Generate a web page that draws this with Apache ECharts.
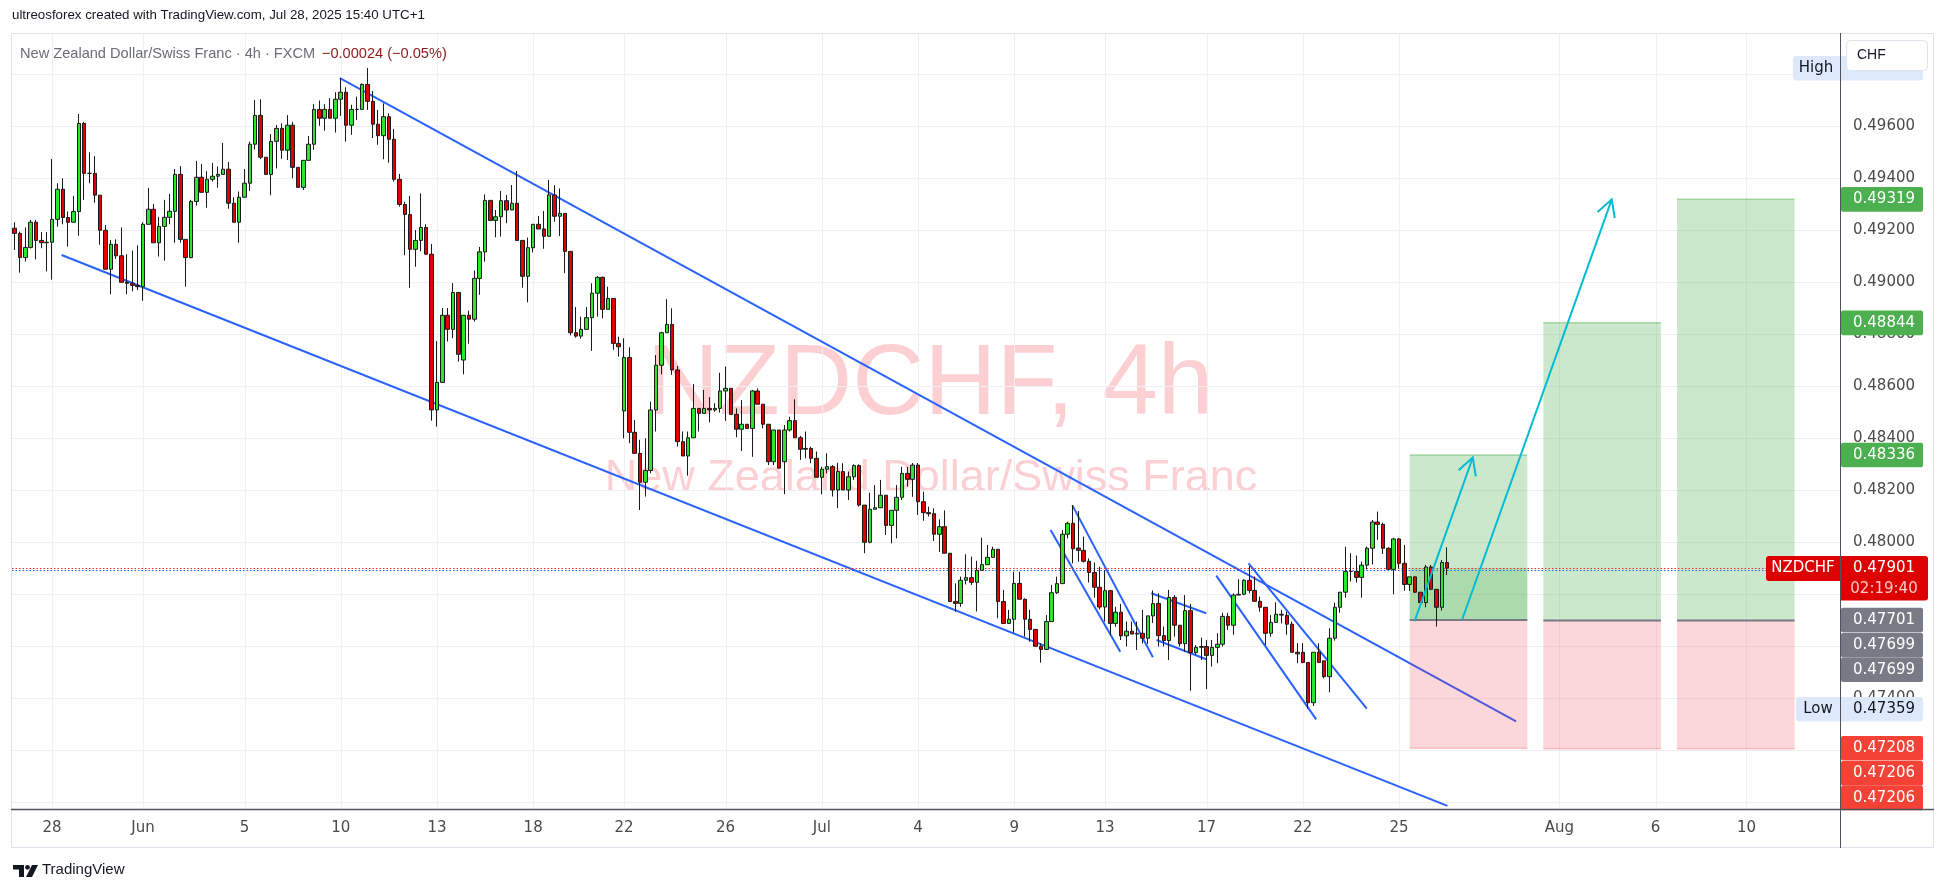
<!DOCTYPE html>
<html><head><meta charset="utf-8">
<script src="https://cdn.jsdelivr.net/npm/echarts@6/dist/echarts.min.js"></script>
<style>html,body{margin:0;padding:0;background:#fff;}#chart{width:1946px;height:893px;}</style>
</head><body><div id="chart"></div>
<script>
// ---------- data ----------
const opens=[.49208,.49188,.49095,.49134,.49231,.49161,.49152,.49154,.49242,.49358,
.49249,.49231,.49272,.49611,.49419,.49419,.49335,.49200,.49050,.49146,
.49102,.49000,.48996,.48988,.48983,.49223,.49281,.49152,.49215,.49250,
.49273,.49415,.49165,.49095,.49311,.49404,.49346,.49396,.49408,.49415,
.49435,.49304,.49231,.49327,.49381,.49531,.49642,.49481,.49415,.49542,
.49592,.49508,.49604,.49442,.49365,.49469,.49531,.49665,.49631,.49665,
.49631,.49704,.49731,.49604,.49665,.49665,.49761,.49696,.49608,.49564,
.49637,.49550,.49396,.49299,.49261,.49127,.49161,.49211,.49108,.48509,
.48615,.48873,.48819,.48961,.48701,.48873,.48858,.49015,.49117,.49315,
.49238,.49252,.49314,.49278,.49304,.49161,.49023,.49133,.49223,.49205,
.49177,.49336,.49254,.49265,.49119,.48806,.48793,.48819,.48864,.48958,
.49019,.48896,.48938,.48765,.48505,.48711,.48423,.48342,.48231,.48276,
.48509,.48681,.48806,.48838,.48663,.48387,.48332,.48402,.48515,.48496,
.48515,.48509,.48515,.48582,.48592,.48492,.48435,.48454,.48438,.48582,
.48531,.48454,.48310,.48432,.48310,.48432,.48468,.48402,.48358,.48361,
.48323,.48250,.48281,.48291,.48201,.48272,.48201,.48252,.48295,.48143,
.48000,.48127,.48133,.48181,.48065,.48123,.48173,.48265,.48242,.48297,
.48156,.48114,.48110,.48031,.48060,.47958,.47772,.47765,.47854,.47864,
.47846,.47892,.47914,.47942,.47973,.47772,.47688,.47704,.47842,.47781,
.47704,.47665,.47600,.47588,.47695,.47806,.47841,.48031,.48073,.47978,
.47969,.47927,.47884,.47827,.47751,.47814,.47688,.47731,.47640,.47658,
.47647,.47650,.47631,.47717,.47765,.47641,.47622,.47788,.47681,.47610,
.47737,.47576,.47596,.47599,.47565,.47596,.47608,.47715,.47681,.47797,
.47800,.47854,.47815,.47773,.47750,.47650,.47692,.47723,.47719,.47685,
.47577,.47577,.47538,.47383,.47577,.47544,.47483,.47631,.47750,.47808,
.47888,.47888,.47865,.47912,.47977,.48078,.48069,.47977,.47896,.48013,
.47919,.47838,.47867,.47808,.47768,.47905,.47819,.47750,.47922];
const closes=[.49188,.49095,.49134,.49231,.49161,.49152,.49154,.49242,.49358,.49249,
.49231,.49272,.49611,.49419,.49419,.49335,.49200,.49050,.49146,.49102,
.49000,.48996,.48988,.48983,.49223,.49281,.49152,.49215,.49250,.49273,
.49415,.49165,.49095,.49311,.49404,.49346,.49396,.49408,.49415,.49435,
.49304,.49231,.49327,.49381,.49531,.49642,.49481,.49415,.49542,.49592,
.49508,.49604,.49442,.49365,.49469,.49531,.49665,.49631,.49665,.49631,
.49704,.49731,.49604,.49665,.49665,.49761,.49696,.49608,.49564,.49637,
.49550,.49396,.49299,.49261,.49127,.49161,.49211,.49108,.48509,.48615,
.48873,.48819,.48961,.48723,.48873,.48858,.49015,.49117,.49315,.49238,
.49252,.49314,.49278,.49304,.49161,.49023,.49133,.49223,.49205,.49177,
.49336,.49254,.49265,.49119,.48806,.48793,.48819,.48864,.48958,.49019,
.48896,.48938,.48765,.48752,.48711,.48423,.48342,.48231,.48276,.48509,
.48681,.48806,.48838,.48663,.48387,.48332,.48402,.48515,.48496,.48515,
.48509,.48515,.48582,.48592,.48492,.48435,.48454,.48438,.48582,.48531,
.48454,.48310,.48432,.48285,.48432,.48468,.48402,.48358,.48361,.48323,
.48250,.48281,.48291,.48201,.48272,.48201,.48252,.48295,.48143,.48000,
.48127,.48133,.48181,.48065,.48123,.48173,.48265,.48242,.48297,.48156,
.48114,.48110,.48031,.48060,.47958,.47772,.47765,.47854,.47864,.47846,
.47892,.47914,.47942,.47973,.47772,.47688,.47704,.47842,.47781,.47704,
.47665,.47600,.47588,.47695,.47806,.47841,.48031,.48073,.47975,.47969,
.47927,.47884,.47827,.47751,.47814,.47688,.47731,.47640,.47658,.47647,
.47650,.47631,.47717,.47764,.47641,.47622,.47788,.47681,.47610,.47737,
.47576,.47596,.47599,.47565,.47596,.47608,.47715,.47681,.47797,.47800,
.47854,.47815,.47773,.47750,.47650,.47692,.47723,.47720,.47685,.47577,
.47571,.47538,.47383,.47577,.47538,.47483,.47631,.47750,.47808,.47888,
.47888,.47865,.47912,.47977,.48078,.48069,.47977,.47896,.48013,.47919,
.47838,.47867,.47808,.47768,.47905,.47819,.47750,.47922,.47901];
const highs=[.49231,.49195,.49211,.49240,.49240,.49193,.49193,.49474,.49381,.49400,
.49272,.49332,.49647,.49617,.49500,.49485,.49335,.49220,.49163,.49165,
.49211,.49108,.49122,.49142,.49231,.49363,.49301,.49252,.49317,.49340,
.49436,.49447,.49165,.49317,.49467,.49455,.49427,.49459,.49445,.49536,
.49463,.49327,.49349,.49436,.49541,.49701,.49704,.49481,.49570,.49605,
.49611,.49643,.49617,.49442,.49469,.49563,.49685,.49699,.49685,.49708,
.49731,.49785,.49750,.49683,.49714,.49765,.49824,.49736,.49663,.49688,
.49650,.49590,.49417,.49310,.49332,.49201,.49342,.49223,.49147,.48774,
.48901,.48901,.48997,.48961,.48873,.48891,.49045,.49136,.49338,.49315,
.49278,.49351,.49336,.49374,.49428,.49161,.49172,.49223,.49255,.49274,
.49393,.49374,.49361,.49265,.49119,.48905,.48868,.48905,.48996,.49024,
.49022,.48983,.48938,.48791,.48785,.48750,.48470,.48394,.48400,.48541,
.48720,.48810,.48935,.48900,.48678,.48426,.48426,.48609,.48515,.48586,
.48558,.48535,.48652,.48676,.48592,.48515,.48547,.48454,.48586,.48592,
.48531,.48454,.48432,.48432,.48451,.48483,.48550,.48409,.48426,.48368,
.48349,.48291,.48342,.48297,.48306,.48304,.48272,.48300,.48300,.48143,
.48191,.48220,.48240,.48181,.48123,.48220,.48290,.48290,.48305,.48305,
.48195,.48137,.48131,.48088,.48123,.47958,.47842,.47868,.47954,.47945,
.47929,.48018,.47990,.47983,.47975,.47817,.47740,.47887,.47887,.47784,
.47740,.47665,.47611,.47720,.47836,.47868,.48047,.48079,.48143,.48120,
.48022,.47938,.47922,.47906,.47893,.47817,.47752,.47763,.47695,.47695,
.47695,.47740,.47717,.47815,.47804,.47676,.47817,.47797,.47681,.47797,
.47763,.47605,.47633,.47624,.47624,.47650,.47729,.47729,.47804,.47858,
.47858,.47909,.47868,.47791,.47750,.47720,.47769,.47740,.47733,.47695,
.47612,.47612,.47538,.47577,.47612,.47544,.47669,.47768,.47808,.47983,
.47958,.47949,.47926,.47983,.48086,.48118,.48076,.47981,.48017,.48017,
.47990,.47867,.47867,.47808,.47913,.47913,.47819,.47932,.47981];
const lows=[.49124,.49037,.49080,.49130,.49088,.49131,.49042,.49010,.49214,.49223,
.49137,.49231,.49179,.49317,.49381,.49306,.49144,.49050,.48954,.49090,
.49000,.48954,.48965,.48970,.48929,.49223,.49152,.49099,.49083,.49223,
.49152,.49152,.48983,.49092,.49295,.49346,.49287,.49387,.49364,.49415,
.49283,.49231,.49152,.49327,.49351,.49511,.49474,.49415,.49335,.49438,
.49475,.49470,.49400,.49365,.49355,.49469,.49509,.49602,.49583,.49631,
.49576,.49640,.49541,.49567,.49624,.49665,.49663,.49555,.49529,.49473,
.49460,.49387,.49291,.49104,.48979,.49060,.49119,.49108,.48468,.48445,
.48615,.48772,.48785,.48695,.48646,.48764,.48849,.48952,.49079,.49238,
.49173,.49176,.49227,.49278,.49161,.48979,.48923,.49115,.49205,.49129,
.49177,.49233,.49178,.49035,.48796,.48787,.48783,.48819,.48736,.48868,
.48861,.48896,.48740,.48714,.48400,.48381,.48342,.48124,.48176,.48265,
.48426,.48646,.48806,.48644,.48368,.48332,.48256,.48402,.48426,.48496,
.48461,.48502,.48499,.48467,.48492,.48404,.48351,.48438,.48329,.48531,
.48438,.48297,.48297,.48285,.48185,.48426,.48402,.48317,.48323,.48304,
.48250,.48185,.48265,.48176,.48131,.48201,.48163,.48240,.48137,.47958,
.47996,.48127,.48133,.48028,.47996,.48015,.48163,.48214,.48175,.48105,
.48083,.48099,.48005,.47963,.47958,.47772,.47733,.47752,.47838,.47836,
.47734,.47892,.47914,.47942,.47708,.47688,.47686,.47652,.47781,.47637,
.47618,.47600,.47537,.47586,.47695,.47801,.47841,.48015,.47919,.47925,
.47922,.47845,.47787,.47742,.47695,.47643,.47675,.47624,.47599,.47647,
.47586,.47611,.47609,.47690,.47599,.47599,.47547,.47637,.47599,.47579,
.47429,.47567,.47547,.47435,.47522,.47535,.47599,.47663,.47644,.47797,
.47797,.47804,.47771,.47733,.47605,.47637,.47692,.47688,.47644,.47577,
.47535,.47535,.47359,.47370,.47538,.47477,.47423,.47622,.47729,.47787,
.47849,.47845,.47787,.47896,.47915,.48009,.47955,.47896,.47800,.47900,
.47813,.47813,.47805,.47765,.47750,.47819,.47676,.47737,.47874];

const SLOT_COUNT = 342;                     // bar slots incl. projected future
const tickIndex  = [7,24,43,61,79,97,114,133,151,169,187,204,223,241,259,289,307,324];
const tickLabels = ['28','Jun','5','10','13','18','22','26','Jul','4','9','13','17','22','25','Aug','6','10'];
const priceTicks = [0.470,0.472,0.474,0.476,0.478,0.480,0.482,0.484,0.486,0.488,0.490,0.492,0.494,0.496,0.498];
const Y_MIN = 0.469742, Y_MAX = 0.499588;

const lastPrice = 0.47901, bidPrice = 0.47893;
const highPrice = 0.49824, lowPrice = 0.47359;

// long positions: [startBar, endBar, entry, target, stop]
const positionStart  = [261, 286, 311];
const positionEnd    = [283, 308, 333];
const positionEntry  = [0.47701, 0.47699, 0.47699];
const positionTarget = [0.48336, 0.48844, 0.49319];
const positionStop   = [0.47208, 0.47206, 0.47206];

// trend lines: [bar0, price0, bar1, price1]
const trendLines = [
  [60.84,0.49785,280.9,0.47311],
  [8.79,0.49105,268.06,0.46986],
  [193.81,0.48047,206.85,0.47579],
  [197.87,0.48143,212.95,0.47558],
  [212.65,0.47804,222.93,0.47727],
  [213.64,0.47624,222.93,0.47550],
  [224.80,0.47872,243.5,0.47319],
  [230.85,0.47919,252.97,0.47360]
];
// arrows: [bar0, price0, bar1, price1]
const arrows = [
  [261.9,0.47696,272.8,0.48326],
  [270.8,0.47702,298.8,0.49319]
];

// right-axis price tags
const tagPrices = [0.49319,0.48844,0.48336,0.47701,0.47699,0.47699,0.47208,0.47206,0.47206];
const tagColors = ['#4caf50','#4caf50','#4caf50','#787b86','#787b86','#787b86','#f44336','#f44336','#f44336'];
const tagStack  = [0,0,0,0,1,2,0,1,2];

// ---------- chart ----------
const chart = echarts.init(document.getElementById('chart'), null, {renderer:'canvas'});
const cats = Array.from({length:SLOT_COUNT}, (_,i)=>String(i));
const labelMap = {}; tickIndex.forEach((k,j)=>labelMap[k]=tickLabels[j]);
const candleData = opens.map((o,i)=>[o, closes[i], lows[i], highs[i]]);
const AX_FONT = '15px "DejaVu Sans"';
const AX_COLOR = '#4a4a4a';

function rows2(a){return a.map(r=>r.slice());}

const option = {
  animation:false,
  backgroundColor:'#ffffff',
  grid:{left:12, right:106, top:33, bottom:84, containLabel:false},
  xAxis:[
    {type:'category', data:cats, boundaryGap:true,
     axisLine:{show:false}, axisTick:{show:false}, splitLine:{show:false},
     axisLabel:{interval:0, margin:12, color:AX_COLOR, fontFamily:'DejaVu Sans', fontSize:15,
       formatter:(v,idx)=>labelMap[idx]||''}},
    {type:'value', min:-0.5, max:SLOT_COUNT-0.5, show:false}
  ],
  yAxis:{type:'value', min:Y_MIN, max:Y_MAX, show:false},
  graphic:{elements:[
    {type:'text', left:12, top:9, style:{text:'ultreosforex created with TradingView.com, Jul 28, 2025 15:40 UTC+1', fill:'#131722', font:'13.3px "Liberation Sans"'}},
    {type:'text', left:20, top:46, z:40, style:{
      text:'{a|New Zealand Dollar/Swiss Franc · 4h · FXCM}  {b|−0.00024 (−0.05%)}',
      rich:{a:{fill:'#6a6d78', font:'14.6px "Liberation Sans"'}, b:{fill:'#8b1a1a', font:'14.6px "Liberation Sans"'}}}},
    {type:'text', x:930, y:386, z:-1, silent:true, style:{text:'NZDCHF, 4h', fill:'rgba(242,54,69,0.24)', font:'100px "Liberation Sans"', align:'center', verticalAlign:'middle'}},
    {type:'text', x:931, y:479, z:-1, silent:true, style:{text:'New Zealand Dollar/Swiss Franc', fill:'rgba(242,54,69,0.24)', font:'45px "Liberation Sans"', align:'center', verticalAlign:'middle'}},
    // frame
    {type:'rect', z:60, silent:true, shape:{x:11.5,y:33.5,width:1922,height:814}, style:{fill:'none', stroke:'#e0e3eb', lineWidth:1}},
    {type:'line', z:60, silent:true, shape:{x1:11,y1:809.5,x2:1934,y2:809.5}, style:{stroke:'#50535e', lineWidth:1.5}},
    {type:'line', z:60, silent:true, shape:{x1:1840.5,y1:33,x2:1840.5,y2:848}, style:{stroke:'#50535e', lineWidth:1}},
    // CHF button
    {type:'rect', z:70, shape:{x:1846.5,y:40.5,width:81,height:30,r:4}, style:{fill:'#ffffff', stroke:'#e0e3eb', lineWidth:1}},
    {type:'text', z:71, left:1857, top:48, style:{text:'CHF', fill:'#131722', font:'14px "Liberation Sans"'}},
    // TradingView logo
    {type:'polygon', z:60, shape:{points:[[13,865],[24,865],[24,877],[19,877],[19,869.5],[13,869.5]]}, style:{fill:'#131722'}},
    {type:'circle', z:60, shape:{cx:27.5,cy:867.3,r:2.4}, style:{fill:'#131722'}},
    {type:'polygon', z:60, shape:{points:[[32,865],[38,865],[32,877],[26,877]]}, style:{fill:'#131722'}},
    {type:'text', z:60, left:42, top:862, style:{text:'TradingView', fill:'#131722', font:'15px "Liberation Sans"'}}
  ]},
  series:[
    // vertical grid
    {type:'custom', xAxisIndex:1, yAxisIndex:0, z:0, silent:true,
     data:tickIndex.map(k=>[k,Y_MAX]),
     renderItem:(p,api)=>{const cs=p.coordSys; const x=Math.round(api.coord([api.value(0),Y_MAX])[0])+0.5;
       return {type:'line', shape:{x1:x,y1:cs.y,x2:x,y2:cs.y+cs.height}, style:{stroke:'#eef0f5',lineWidth:1}};}},
    // horizontal grid + price scale labels
    {type:'custom', xAxisIndex:1, yAxisIndex:0, z:0, silent:true,
     data:priceTicks.map(v=>[0,v]),
     renderItem:(p,api)=>{const cs=p.coordSys; const v=api.value(1); const y=Math.round(api.coord([0,v])[1])+0.5;
       return {type:'group', children:[
         {type:'line', shape:{x1:cs.x,y1:y,x2:cs.x+cs.width,y2:y}, style:{stroke:'#eef0f5',lineWidth:1}},
         {type:'text', style:{text:v.toFixed(5), x:cs.x+cs.width+13, y:y, fill:AX_COLOR, font:AX_FONT, align:'left', verticalAlign:'middle'}}
       ]};}},
    // trend lines
    {type:'custom', xAxisIndex:1, yAxisIndex:0, z:1, silent:true, clip:true,
     data:rows2(trendLines), encode:{x:[0,2], y:[1,3]},
     renderItem:(p,api)=>{const a=api.coord([api.value(0),api.value(1)]), b=api.coord([api.value(2),api.value(3)]);
       return {type:'line', shape:{x1:a[0],y1:a[1],x2:b[0],y2:b[1]}, style:{stroke:'#2962ff',lineWidth:2}};}},
    // positions
    {type:'custom', xAxisIndex:1, yAxisIndex:0, z:2, silent:true,
     data:positionStart.map((s,i)=>[s,positionEnd[i],positionEntry[i],positionTarget[i],positionStop[i]]),
     encode:{x:[0,1], y:[2,3,4]},
     renderItem:(p,api)=>{
       const s=api.value(0), e=api.value(1), en=api.value(2), t=api.value(3), st=api.value(4);
       const a=api.coord([s,t]), b=api.coord([e,en]), c=api.coord([e,st]);
       const x1=a[0], x2=b[0], w=x2-x1;
       const ch=[
         {type:'rect', shape:{x:x1,y:a[1],width:w,height:b[1]-a[1]}, style:{fill:'rgba(76,175,80,0.29)'}},
         {type:'rect', shape:{x:x1,y:b[1],width:w,height:c[1]-b[1]}, style:{fill:'rgba(242,54,69,0.2)'}},
         {type:'line', shape:{x1:x1,y1:a[1],x2:x2,y2:a[1]}, style:{stroke:'rgba(76,175,80,0.45)',lineWidth:1.5}},
         {type:'line', shape:{x1:x1,y1:c[1],x2:x2,y2:c[1]}, style:{stroke:'rgba(242,54,69,0.25)',lineWidth:1.5}}
       ];
       if(p.dataIndex===0){const q=api.coord([s,lastPrice]);
         ch.push({type:'rect', shape:{x:x1,y:q[1],width:w,height:b[1]-q[1]}, style:{fill:'rgba(76,175,80,0.25)'}});}
       ch.push({type:'line', shape:{x1:x1,y1:b[1],x2:x2,y2:b[1]}, style:{stroke:'#787b86',lineWidth:2}});
       return {type:'group', children:ch};}},
    // current price dotted lines
    {type:'custom', xAxisIndex:1, yAxisIndex:0, z:2, silent:true,
     data:[[0,lastPrice],[0,bidPrice]],
     renderItem:(p,api)=>{const cs=p.coordSys; const y=Math.round(api.coord([0,api.value(1)])[1])+0.5;
       return {type:'line', shape:{x1:cs.x,y1:y,x2:cs.x+cs.width,y2:y},
         style:{stroke:p.dataIndex===0?'#f23030':'#2962ff',lineWidth:1,lineDash:[1.5,2]}};}},
    // candles
    {type:'candlestick', xAxisIndex:0, yAxisIndex:0, z:3, data:candleData, barWidth:4,
     itemStyle:{color:'#2ee52e', color0:'#e00000', borderColor:'#1a1a1a', borderColor0:'#1a1a1a', borderWidth:1}},
    // arrows
    {type:'custom', xAxisIndex:1, yAxisIndex:0, z:5, silent:true,
     data:rows2(arrows), encode:{x:[0,2], y:[1,3]},
     renderItem:(p,api)=>{const a=api.coord([api.value(0),api.value(1)]), b=api.coord([api.value(2),api.value(3)]);
       const dx=a[0]-b[0], dy=a[1]-b[1], L=Math.hypot(dx,dy), ux=dx/L, uy=dy/L, hl=19, ang=0.5;
       const r1=[b[0]+hl*(ux*Math.cos(ang)-uy*Math.sin(ang)), b[1]+hl*(ux*Math.sin(ang)+uy*Math.cos(ang))];
       const r2=[b[0]+hl*(ux*Math.cos(-ang)-uy*Math.sin(-ang)), b[1]+hl*(ux*Math.sin(-ang)+uy*Math.cos(-ang))];
       const st={stroke:'#00bcd4',lineWidth:2,fill:'none'};
       return {type:'group', children:[
         {type:'line', shape:{x1:a[0],y1:a[1],x2:b[0],y2:b[1]}, style:st},
         {type:'polyline', shape:{points:[r1,b,r2]}, style:st}]};}},
    // right-axis tags (targets/entries/stops)
    {type:'custom', xAxisIndex:1, yAxisIndex:0, z:20, silent:true,
     data:tagPrices.map(v=>[0,v]),
     renderItem:(p,api)=>{const cs=p.coordSys; const i=p.dataIndex; const v=api.value(1);
       const y=api.coord([0,v])[1]+tagStack[i]*24.6; const x0=cs.x+cs.width+1;
       return {type:'group', children:[
         {type:'rect', shape:{x:x0,y:y-12.3,width:82,height:24.6,r:2}, style:{fill:tagColors[i]}},
         {type:'text', style:{text:v.toFixed(5), x:x0+43, y:y, fill:'#ffffff', font:AX_FONT, align:'center', verticalAlign:'middle'}}]};}},
    // last price, high, low tags
    {type:'custom', xAxisIndex:1, yAxisIndex:0, z:21, silent:true,
     data:[[0,lastPrice],[0,highPrice],[0,lowPrice]],
     renderItem:(p,api)=>{const cs=p.coordSys; const v=api.value(1); const y=api.coord([0,v])[1]; const xr=cs.x+cs.width;
       if(p.dataIndex===0){
         return {type:'group', children:[
           {type:'rect', shape:{x:xr-74,y:y-12,width:74,height:25,r:[3,0,0,3]}, style:{fill:'#de0000'}},
           {type:'text', style:{text:'NZDCHF', x:xr-37, y:y+0.5, fill:'#ffffff', font:'15px "DejaVu Sans"', align:'center', verticalAlign:'middle'}},
           {type:'rect', shape:{x:xr+1,y:y-12,width:87,height:44.5,r:[0,3,3,0]}, style:{fill:'#de0000'}},
           {type:'text', style:{text:v.toFixed(5), x:xr+44, y:y, fill:'#ffffff', font:AX_FONT, align:'center', verticalAlign:'middle'}},
           {type:'text', style:{text:'02:19:40', x:xr+44, y:y+21, fill:'#ffc9c9', font:AX_FONT, align:'center', verticalAlign:'middle'}}]};
       }
       const isHigh=p.dataIndex===1;
       return {type:'group', children:[
         {type:'rect', shape:{x:xr-(isHigh?47:44),y:y-12,width:(isHigh?47:44)+83,height:24.5,r:3}, style:{fill:'#dde9fb'}},
         {type:'text', style:{text:isHigh?'High':'Low', x:xr-(isHigh?24:22), y:y, fill:'#131722', font:'15px "DejaVu Sans"', align:'center', verticalAlign:'middle'}},
         {type:'text', style:{text:isHigh?'':v.toFixed(5), x:xr+44, y:y, fill:'#131722', font:'15px "DejaVu Sans"', align:'center', verticalAlign:'middle'}}]};}}
  ]
};
chart.setOption(option);
</script></body></html>
